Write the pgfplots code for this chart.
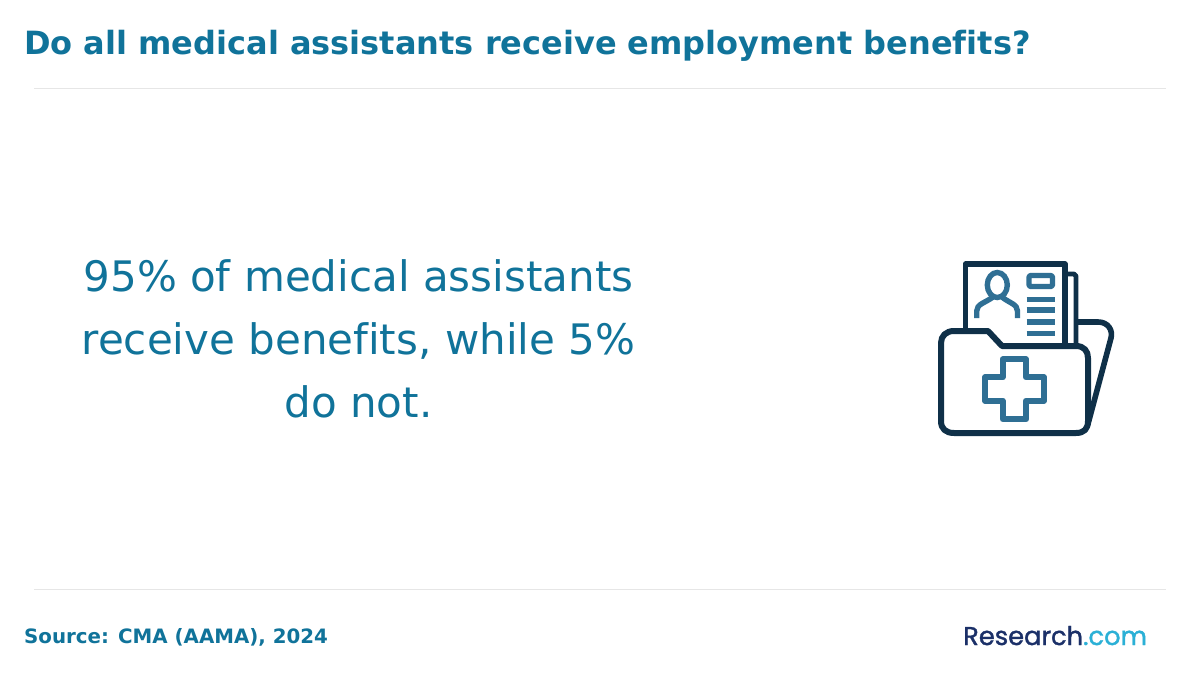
\documentclass[border=0pt]{standalone}
\usepackage{pgfplots}
\pgfplotsset{compat=1.18}
\usepackage{fontspec}
\setmainfont[Ligatures=NoCommon]{DejaVu Sans}
\newfontfamily\logofont[FakeBold=1.4]{Poppins}
\definecolor{tealtxt}{HTML}{10739A}
\definecolor{rulec}{HTML}{E6E6E6}
\definecolor{icdark}{HTML}{0F3048}
\definecolor{icmid}{HTML}{2F6F94}
\definecolor{lognavy}{HTML}{1B3068}
\definecolor{logsky}{HTML}{2BB0D6}
\begin{document}
\begin{tikzpicture}
\begin{axis}[
  scale only axis, width=1200pt, height=680pt,
  xmin=0, xmax=1200, ymin=0, ymax=680, y dir=reverse,
  axis lines=none, ticks=none, clip=false,
  enlargelimits=false]
\fill[white] (axis cs:0,0) rectangle (axis cs:1200,680);
\addplot[rulec, line width=0.9pt, forget plot] coordinates {(34,88) (1166,88)};
\addplot[rulec, line width=0.9pt, forget plot] coordinates {(34,589) (1166,589)};
\node[anchor=base west, inner sep=0, text=tealtxt, font=\fontsize{32pt}{38pt}\selectfont\bfseries] at (axis cs:24,54) {Do all medical assistants receive employment benefits?};
\node[anchor=base west, inner sep=0, text=tealtxt, font=\fontsize{19.8pt}{24pt}\selectfont\bfseries] at (axis cs:24,643) {Source: CMA (AAMA), 2024};
\node[anchor=base, inner sep=0, text=tealtxt, font=\fontsize{42pt}{50pt}\selectfont] at (axis cs:358.5,291) {95\% of medical assistants};
\node[anchor=base, inner sep=0, text=tealtxt, font=\fontsize{42pt}{50pt}\selectfont] at (axis cs:358.5,354) {receive benefits, while 5\%};
\node[anchor=base, inner sep=0, text=tealtxt, font=\fontsize{42pt}{50pt}\selectfont] at (axis cs:358.5,417) {do not.};
\node[anchor=base west, inner sep=0, font=\fontsize{25.7pt}{30pt}\logofont] at (axis cs:963,645) {\textcolor{lognavy}{Research}\textcolor{logsky}{.com}};
% icon: sheets
\draw[icdark, line width=5.6pt, line join=round] (axis cs:965.5,332) -- (axis cs:965.5,264) -- (axis cs:1065,264) -- (axis cs:1065,346);
\draw[icdark, line width=4.8pt, line join=round] (axis cs:1067,274) -- (axis cs:1074,274) -- (axis cs:1076,276) -- (axis cs:1076,346);
\draw[icdark, line width=5.6pt, line cap=round, line join=round]
  (axis cs:1077,322) -- (axis cs:1098,322) .. controls (axis cs:1108,322) and (axis cs:1113,330) .. (axis cs:1111,338) -- (axis cs:1088,424);
% folder front
\draw[icdark, line width=6pt, line join=round, fill=white]
  (axis cs:954,331) -- (axis cs:988,331) -- (axis cs:1002,346) -- (axis cs:1076,346)
  .. controls (axis cs:1084,346) and (axis cs:1088,351) .. (axis cs:1088,358)
  -- (axis cs:1088,421) .. controls (axis cs:1088,429) and (axis cs:1084,433) .. (axis cs:1076,433)
  -- (axis cs:954,433) .. controls (axis cs:946,433) and (axis cs:941,429) .. (axis cs:941,421)
  -- (axis cs:941,343) .. controls (axis cs:941,336) and (axis cs:946,331) .. (axis cs:954,331) -- cycle;
% cross
\draw[icmid, line width=6pt, line join=round]
  (axis cs:1002.7,359.3) -- (axis cs:1026,359.3) -- (axis cs:1026,377.3) -- (axis cs:1044,377.3)
  -- (axis cs:1044,400.7) -- (axis cs:1026,400.7) -- (axis cs:1026,419.3) -- (axis cs:1002.7,419.3)
  -- (axis cs:1002.7,400.7) -- (axis cs:985,400.7) -- (axis cs:985,377.3) -- (axis cs:1002.7,377.3) -- cycle;
% person
\draw[icmid, line width=5.4pt] (axis cs:997.3,285) ellipse [x radius=10, y radius=12.5];
\draw[icmid, line width=5.4pt]
  (axis cs:976.7,318) -- (axis cs:976.7,311) .. controls (axis cs:976.7,304) and (axis cs:985,303) .. (axis cs:993,297);
\draw[icmid, line width=5.4pt]
  (axis cs:1017.5,318) -- (axis cs:1017.5,311) .. controls (axis cs:1017.5,304) and (axis cs:1009,303) .. (axis cs:1002,297);
% card lines
\draw[icmid, line width=5.4pt, line join=round, rounded corners=1.5pt] (axis cs:1029,275.5) rectangle (axis cs:1052.5,286.5);
\addplot[icmid, line width=5.6pt, forget plot] coordinates {(1026.7,299.3) (1055,299.3)};
\addplot[icmid, line width=5.6pt, forget plot] coordinates {(1026.7,310) (1055,310)};
\addplot[icmid, line width=5.6pt, forget plot] coordinates {(1026.7,321.7) (1055,321.7)};
\addplot[icmid, line width=5.6pt, forget plot] coordinates {(1026.7,333.3) (1055,333.3)};
\end{axis}
\end{tikzpicture}
\end{document}
